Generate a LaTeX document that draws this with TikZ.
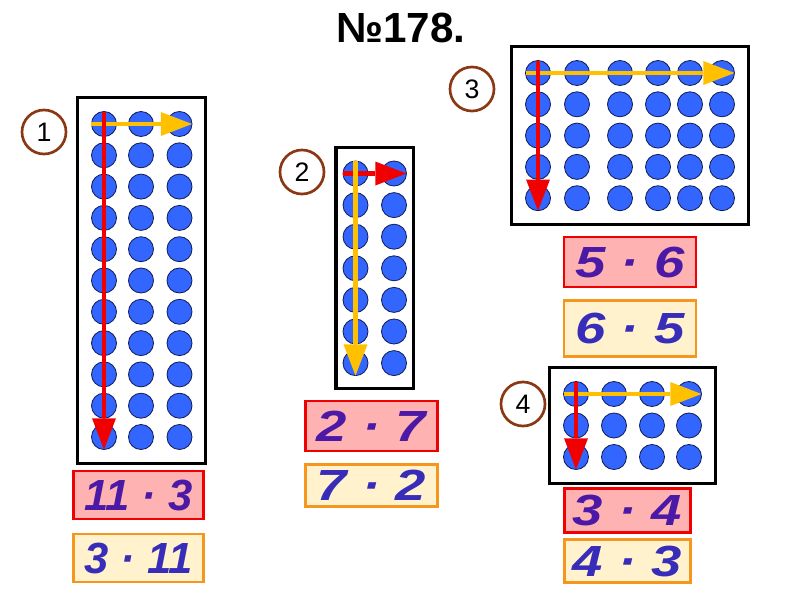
\documentclass[tikz,border=0pt]{standalone}
\usepackage{fontspec}
\setmainfont{Liberation Sans}
\usepackage{graphicx}
\usepackage{tikz}
\usetikzlibrary{arrows.meta, positioning, fit}

\definecolor{dotblue}{RGB}{51,102,255}
\definecolor{dotline}{RGB}{20,30,90}
\definecolor{arrowyellow}{RGB}{255,192,0}
\definecolor{arrowred}{RGB}{240,0,0}
\definecolor{ringbrown}{RGB}{140,55,20}
\definecolor{redfill}{RGB}{255,178,178}
\definecolor{orangeline}{RGB}{245,150,30}
\definecolor{orangefill}{RGB}{255,242,204}
\definecolor{mulpurple}{RGB}{75,25,165}
\definecolor{mulblue}{RGB}{55,45,185}
\newcommand{\wide}[2]{\scalebox{#1}[1]{#2}}

\begin{document}
\begin{tikzpicture}[x=0.025cm, y=-0.025cm, >={Triangle[length=0.78cm, width=0.6cm, line width=0pt]},
		dot/.style={circle, draw=dotline, fill=dotblue, line width=0.6pt, minimum size=0.625cm, inner sep=0pt, outer sep=0pt},
		frame/.style={draw=black, line width=2.2pt, inner sep=0.34cm},
		ring/.style={circle, draw=ringbrown, fill=white, line width=1.9pt, minimum size=1.1cm, inner sep=0pt, font=\fontsize{19}{19}\selectfont},
		mulred/.style={rectangle, draw=arrowred, fill=redfill, line width=2pt, inner sep=0pt, minimum width=3.25cm, minimum height=1.2cm, text=mulpurple, font=\fontsize{31}{31}\selectfont\bfseries\itshape},
		mulorange/.style={mulred, draw=orangeline, fill=orangefill, text=mulblue},
		yarrow/.style={->, arrowyellow, line width=3.4pt},
		rarrow/.style={->, arrowred, line width=3.4pt}]
		
		\useasboundingbox (0,0) rectangle (800,600);
		
		% Title
		\node[font=\fontsize{30}{30}\selectfont\bfseries] (title) at (401,28) {№178.};
		
		% Numbers
		\node[ring] (n1) at (44,132) {1};
		\node[ring] (n2) at (302,172) {2};
		\node[ring] (n3) at (472,89) {3};
		\node[ring] (n4) at (523,404) {4};
		
		% Dots
		\foreach \r in {1,...,11}
			\foreach \c/\x in {1/104, 2/141, 3/179.5}
				\node[dot] (a-\r-\c) at (\x, {124+(\r-1)*31.3}) {};
		\foreach \r in {1,...,7}
			\foreach \c/\x in {1/355.5, 2/394}
				\node[dot] (b-\r-\c) at (\x, {173.5+(\r-1)*31.6}) {};
		\foreach \r in {1,...,5}
			\foreach \c/\x in {1/538, 2/577, 3/620, 4/658, 5/690, 6/722}
				\node[dot] (c-\r-\c) at (\x, {73+(\r-1)*31.3}) {};
		\foreach \r in {1,...,3}
			\foreach \c/\x in {1/576, 2/614, 3/652, 4/689}
				\node[dot] (d-\r-\c) at (\x, {394+(\r-1)*31.5}) {};
		
		% Frames
		\node[frame, fit=(a-1-1)(a-11-3)] (box1) {};
		\node[frame, inner xsep=0.175cm, inner ysep=0.33cm, fit=(b-1-1)(b-7-2)] (box2) {};
		\node[frame, fit=(c-1-1)(c-5-6)] (box3) {};
		\node[frame, fit=(d-1-1)(d-3-4)] (box4) {};
		
		% Arrows
		\draw[yarrow] (a-1-1.west) -- (a-1-3.east);
		\draw[rarrow] (a-1-1.north) -- (a-11-1.south);
		\draw[rarrow] (b-1-1.west) -- (b-1-2.east);
		\draw[yarrow] (b-1-1.north) -- (b-7-1.south);
		\draw[yarrow] (c-1-1.west) -- (c-1-6.east);
		\draw[rarrow] (c-1-1.north) -- (c-5-1.south);
		\draw[yarrow] (d-1-1.west) -- (d-1-4.east);
		\draw[rarrow] (d-1-1.north) -- (d-3-1.south);
		
		% Products
		\node[mulred] (m1a) at (138.5,495) {11 · 3};
		\node[mulorange] (m1b) at (138.5,558) {3 · 11};
		\node[mulred, minimum width=3.3cm, minimum height=1.25cm] (m2a) at (371.5,426) {\wide{1.25}{2 · 7}};
		\node[mulorange, minimum width=3.3cm, minimum height=1.05cm] (m2b) at (371.5,485.5) {\wide{1.25}{7 · 2}};
		\node[mulred, minimum width=3.3cm, minimum height=1.25cm] (m3a) at (630,262) {\wide{1.25}{5 · 6}};
		\node[mulorange, minimum width=3.3cm, minimum height=1.4cm] (m3b) at (630,328.5) {\wide{1.25}{6 · 5}};
		\node[mulred, minimum width=3.15cm, minimum height=1.1cm] (m4a) at (627.5,510.5) {\wide{1.25}{3 · 4}};
		\node[mulorange, minimum width=3.15cm, minimum height=1.08cm] (m4b) at (627.5,561) {\wide{1.25}{4 · 3}};
		
	\end{tikzpicture}
\end{document}
